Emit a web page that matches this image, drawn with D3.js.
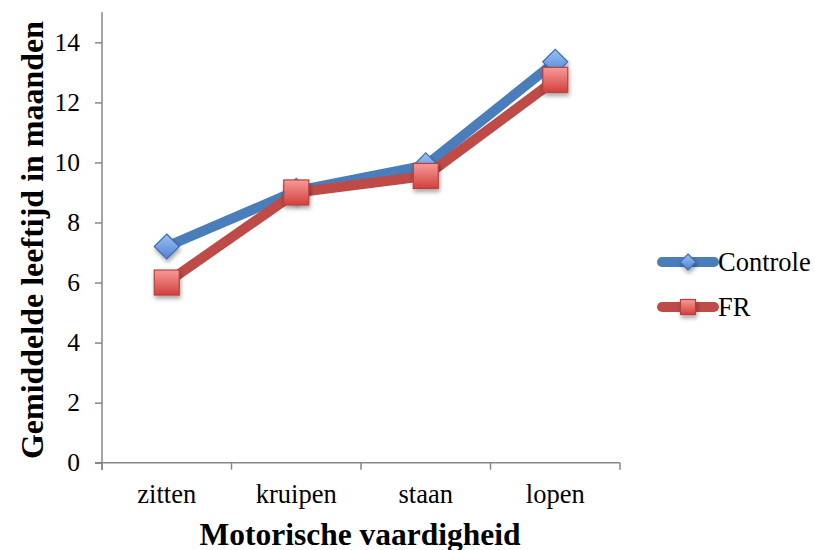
<!DOCTYPE html>
<html><head><meta charset="utf-8">
<script src="https://cdn.jsdelivr.net/npm/d3@7"></script>
<style>body{margin:0;background:#fff}svg{display:block}</style>
</head><body>
<script>
const categories = ["zitten","kruipen","staan","lopen"];
const controle = [7.2, 9.05, 9.9, 13.35];
const fr = [6.0, 9.0, 9.55, 12.75];
const yTicks = [0,2,4,6,8,10,12,14];
const seriesNames = ["Controle","FR"];

const FONT="Liberation Serif";
const W=815,H=550;
const svg=d3.select("body").append("svg").attr("width",W).attr("height",H).attr("font-family",FONT);
const defs=svg.append("defs");
const gb=defs.append("linearGradient").attr("id","gBlue").attr("x1",0).attr("y1",0).attr("x2",0).attr("y2",1);
gb.append("stop").attr("offset","0%").attr("stop-color","#9cc0f5");
gb.append("stop").attr("offset","100%").attr("stop-color","#4f83d0");
const gr=defs.append("linearGradient").attr("id","gRed").attr("x1",0).attr("y1",0).attr("x2",0).attr("y2",1);
gr.append("stop").attr("offset","0%").attr("stop-color","#f99a98");
gr.append("stop").attr("offset","100%").attr("stop-color","#d2403d");
const f=defs.append("filter").attr("id","sh").attr("x","-50%").attr("y","-50%").attr("width","200%").attr("height","200%");
f.append("feDropShadow").attr("dx",1).attr("dy",3).attr("stdDeviation",2).attr("flood-color","#000").attr("flood-opacity",0.35);

const x=d3.scaleBand().domain(categories).range([102,620]);
const y=d3.scaleLinear().domain([0,15]).range([462.7,12.3]);
const cx=d=>x(d)+x.bandwidth()/2;

// axes
const ax="#878787";
const yAx=svg.append("g").attr("transform","translate(102,0)")
  .call(d3.axisLeft(y).tickValues(yTicks).tickSize(7).tickPadding(15).tickFormat(d3.format("d")));
yAx.select(".domain").attr("d","M0,12.3V470");
const xAx=svg.append("g").attr("transform","translate(0,462.7)")
  .call(d3.axisBottom(x).tickSize(0).tickPadding(21));
xAx.select(".domain").attr("d","M95,0H620");
[...categories.map(c=>x(c)), 620].forEach(v=>{
  xAx.append("line").attr("x1",v).attr("x2",v).attr("y1",0).attr("y2",7).attr("stroke",ax).attr("stroke-width",1.5);
});
svg.selectAll("g").attr("font-family",FONT);
svg.selectAll(".domain,.tick line").attr("stroke",ax).attr("stroke-width",1.5);
yAx.selectAll(".tick text").attr("font-size",25.5).attr("font-family",FONT).attr("fill","#000");
xAx.selectAll(".tick text").attr("font-size",26.5).attr("font-family",FONT).attr("fill","#000");

// lines
const line=d3.line().x((d,i)=>cx(categories[i])).y(d=>y(d));
const colors={Controle:"#4a7ebb",FR:"#be4b48"};
[[controle,"Controle"],[fr,"FR"]].forEach(([vals,name])=>{
  svg.append("path").datum(vals).attr("d",line).attr("fill","none")
    .attr("stroke",colors[name]).attr("stroke-width",10).attr("stroke-linejoin","round").attr("stroke-linecap","round");
});
function diamond(g,px,py,r){
  g.append("path").attr("d",`M${px},${py-r}L${px+r},${py}L${px},${py+r}L${px-r},${py}Z`)
   .attr("fill","url(#gBlue)").attr("stroke","#3c6db0").attr("stroke-width",1.2).attr("filter","url(#sh)");
}
function square(g,px,py,s){
  g.append("rect").attr("x",px-s/2).attr("y",py-s/2).attr("width",s).attr("height",s)
   .attr("fill","url(#gRed)").attr("stroke","#b7413e").attr("stroke-width",1.2).attr("filter","url(#sh)");
}
const mk=svg.append("g");
controle.forEach((v,i)=>diamond(mk,cx(categories[i]),y(v),12.5));
fr.forEach((v,i)=>square(mk,cx(categories[i]),y(v),25));

// legend
const lg=svg.append("g");
[[seriesNames[0],262],[seriesNames[1],307]].forEach(([name,ly])=>{
  lg.append("line").attr("x1",662).attr("x2",714).attr("y1",ly).attr("y2",ly)
    .attr("stroke",colors[name]).attr("stroke-width",10).attr("stroke-linecap","round");
  if(name==="Controle") diamond(lg,688,ly,8);
  else square(lg,688,ly,15);
  lg.append("text").attr("x",718).attr("y",ly+9).attr("font-size",26.5).attr("font-family",FONT).text(name);
});

// titles
svg.append("text").attr("x",360).attr("y",545).attr("text-anchor","middle").attr("font-family",FONT)
  .attr("font-size",31.5).attr("font-weight","bold").text("Motorische vaardigheid");
svg.append("text").attr("transform","translate(43,240) rotate(-90)").attr("text-anchor","middle").attr("font-family",FONT)
  .attr("font-size",32).attr("font-weight","bold").text("Gemiddelde leeftijd in maanden");
</script>
</body></html>
